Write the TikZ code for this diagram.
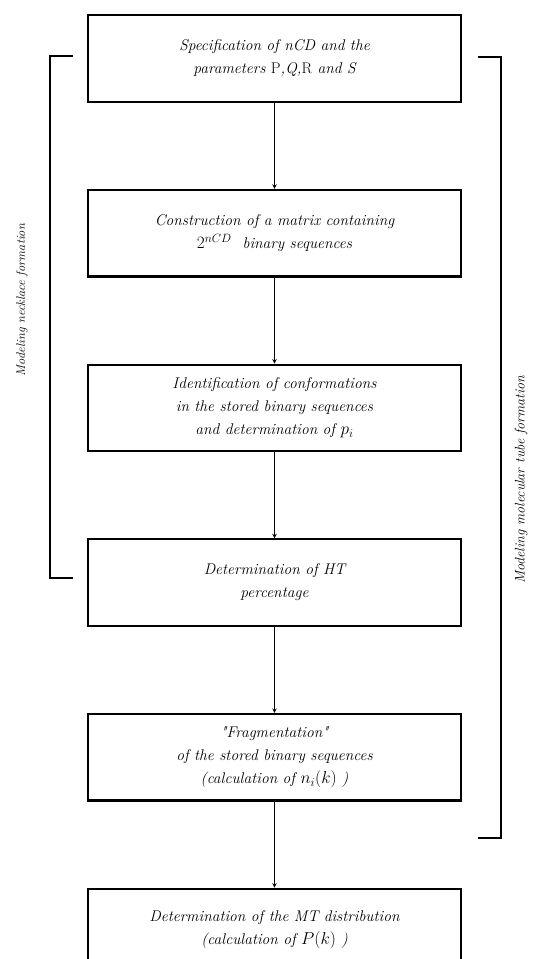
\documentclass[tikz,border=0pt]{standalone}
\usepackage{fontspec}
\usetikzlibrary{positioning}
\tikzstyle{stage}=[rectangle, draw, line width=2.2pt, minimum width=373pt, minimum height=86.5pt, align=center, font=\fontsize{15.5}{23}\selectfont\itshape]
\tikzstyle{side}=[rotate=90, font=\itshape]
\tikzstyle{flow}=[line width=1pt]
\tikzstyle{brace}=[-, line width=1.8pt]
\newcommand{\bigmath}[1]{{\fontsize{18.5}{23}\selectfont$#1$}}

\begin{document}
\begin{tikzpicture}[-stealth, x=1pt, y=-1pt, node distance=86pt]
\useasboundingbox (0,0) rectangle (541,959);

\node[stage] (spec) at (274.5,58.5) {Specification of nCD and the\\ parameters {\upshape P},Q,{\upshape R} and S};
\node[stage] (matr) [below=of spec] {Construction of a matrix containing\\ \bigmath{2^{nCD}} \ binary sequences};
\node[stage] (conf) [below=of matr] {Identification of conformations\\ in the stored binary sequences\\ and determination of \bigmath{p_i}};
\node[stage] (perc) [below=of conf] {Determination of HT\\ percentage};
\node[stage] (frag) [below=of perc] {\textquotedbl Fragmentation\textquotedbl\\ of the stored binary sequences\\ (calculation of \bigmath{n_i(k)} )};
\node[stage, minimum height=81pt] (dist) [below=of frag] {Determination of the MT distribution\\ (calculation of \bigmath{P(k)} )};

\draw[flow] (spec) -- (matr);
\draw[flow] (matr) -- (conf);
\draw[flow] (conf) -- (perc);
\draw[flow] (perc) -- (frag);
\draw[flow] (frag) -- (dist);

%% brackets on both sides
\coordinate (lt) at (73,56);
\coordinate (lb) at (73,578);
\coordinate (rt) at (478,57);
\coordinate (rb) at (478,838);
\draw[brace] (lt) -- ++(-23,0) |- (lb);
\draw[brace] (rt) -- ++(23,0) |- (rb);

\node[side, font=\fontsize{12.5}{15}\selectfont\itshape] (neck) at (22,300) {Modeling necklace formation};
\node[side, font=\fontsize{14}{17}\selectfont\itshape] (tube) at (521,480) {Modeling molecular tube formation};

\end{tikzpicture}
\end{document}
